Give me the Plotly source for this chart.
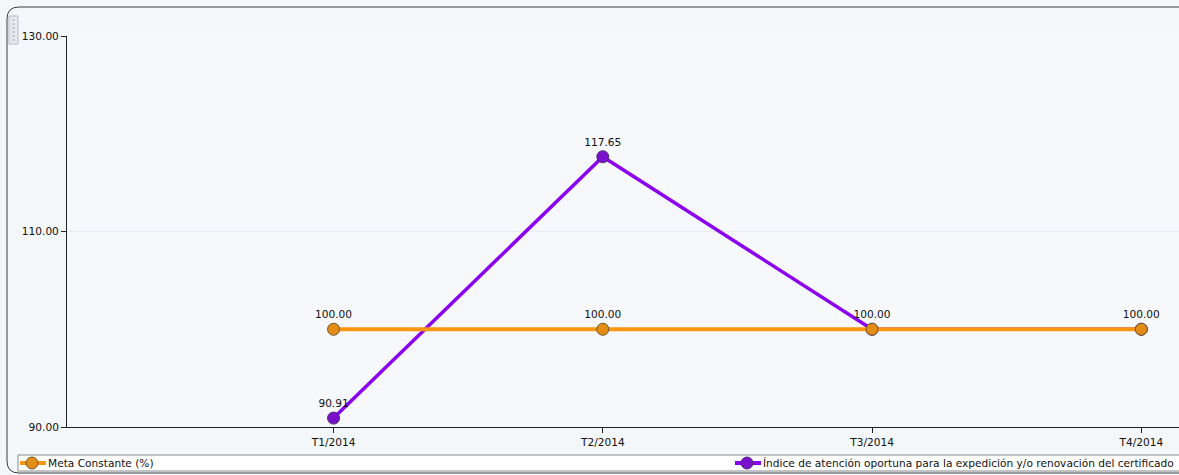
import plotly.graph_objects as go

# Quarterly periods and series values
periods = ["T1/2014", "T2/2014", "T3/2014", "T4/2014"]
meta_values = [100.00, 100.00, 100.00, 100.00]
indice_values = [90.91, 117.65, 100.00, 100.00]
y_ticks = [90, 110, 130]

meta_name = "Meta Constante (%)"
indice_name = "Índice de atención oportuna para la expedición y/o renovación del certificado"

W, H = 1179, 475
L, R, T, B = 67, 0, 36, 48
PW, PH = W - L - R, H - T - B

def px(x):
    return (x - L) / PW

def py(y):
    return (H - B - y) / PH

FONT = "DejaVu Sans, Verdana, sans-serif"
FS = 10.6
ORANGE = "#fb960f"
PURPLE = "#8c00f0"

xs = list(range(len(periods)))

# labels for the index series are skipped where they sit on top of the goal labels
indice_text = ["" if v == m else f"{v:.2f}" for v, m in zip(indice_values, meta_values)]

fig = go.Figure()

fig.add_trace(go.Scatter(
    x=xs, y=indice_values, name=indice_name, mode="lines+markers+text",
    line=dict(color=PURPLE, width=3.5),
    marker=dict(size=12, color="#7a10cc", line=dict(color="#4a2a70", width=1)),
    text=indice_text, textposition="top center",
    textfont=dict(family=FONT, size=FS, color="#111111"),
    showlegend=False, cliponaxis=False,
))
fig.add_trace(go.Scatter(
    x=xs, y=meta_values, name=meta_name, mode="lines+markers+text",
    line=dict(color=ORANGE, width=4),
    marker=dict(size=12, color="#e38d14", line=dict(color="#6e5530", width=1)),
    text=[f"{v:.2f}" for v in meta_values], textposition="top center",
    textfont=dict(family=FONT, size=FS, color="#111111"),
    showlegend=False, cliponaxis=False,
))

shapes = []
# outer rounded frame
x0, y0, x1, y1 = px(7), py(7), px(1190), py(473)
shapes.append(dict(
    type="path", xref="paper", yref="paper",
    path=(f"M {x0},{py(7+12)} Q {x0},{y0} {px(7+12)},{y0} L {x1},{y0} "
          f"M {x0},{py(7+12)} L {x0},{py(473-12)} Q {x0},{y1} {px(7+12)},{y1} L {x1},{y1}"),
    line=dict(color="#3c3c3c", width=1), layer="below",
))
# grip handle at top-left
shapes.append(dict(type="rect", xref="paper", yref="paper",
                   x0=px(9), x1=px(18), y0=py(16), y1=py(44),
                   fillcolor="#e6e9ee", line=dict(color="#b8bcc4", width=1)))
for gy in range(20, 42, 4):
    shapes.append(dict(type="line", xref="paper", yref="paper",
                       x0=px(12.5), x1=px(14.5), y0=py(gy), y1=py(gy),
                       line=dict(color="#9aa0a8", width=1)))
# legend box
shapes.append(dict(type="rect", xref="paper", yref="paper",
                   x0=px(18), x1=px(1185), y0=py(455), y1=py(471),
                   fillcolor="#ffffff", line=dict(color="#8a8a8a", width=1)))
# legend swatches
for (lx, col, mcol, lcol) in [(20, ORANGE, "#e38d14", "#6e5530"),
                              (735, PURPLE, "#7a10cc", "#4a2a70")]:
    shapes.append(dict(type="line", xref="paper", yref="paper",
                       x0=px(lx), x1=px(lx + 26), y0=py(463), y1=py(463),
                       line=dict(color=col, width=4)))
    shapes.append(dict(type="circle", xref="paper", yref="paper",
                       x0=px(lx + 6), x1=px(lx + 18), y0=py(457), y1=py(469),
                       fillcolor=mcol, line=dict(color=lcol, width=1)))

annotations = [
    dict(xref="paper", yref="paper", x=px(46), y=py(463), text=meta_name,
         showarrow=False, xanchor="left", yanchor="middle",
         font=dict(family=FONT, size=FS, color="#111111")),
    dict(xref="paper", yref="paper", x=px(761), y=py(463), text=indice_name,
         showarrow=False, xanchor="left", yanchor="middle",
         font=dict(family=FONT, size=FS, color="#111111")),
]

fig.update_layout(
    width=W, height=H,
    margin=dict(l=L, r=R, t=T, b=B),
    paper_bgcolor="#f4f7fa",
    plot_bgcolor="#f6f8fc",
    font=dict(family=FONT, size=FS, color="#111111"),
    shapes=shapes, annotations=annotations,
    xaxis=dict(
        range=[-0.99, 3.14], tickmode="array", tickvals=xs, ticktext=periods,
        showgrid=False, zeroline=False, showline=True, linecolor="#222222",
        ticks="outside", ticklen=5, tickcolor="#222222",
        tickfont=dict(family=FONT, size=FS, color="#111111"),
    ),
    yaxis=dict(
        range=[90, 130], tickmode="array", tickvals=y_ticks,
        ticktext=[f"{v:.2f}" for v in y_ticks],
        showgrid=True, gridcolor="#e8ecf2", zeroline=False,
        showline=True, linecolor="#222222",
        ticks="outside", ticklen=5, tickcolor="#222222",
        tickfont=dict(family=FONT, size=FS, color="#111111"),
    ),
)

fig.write_html("out.html")
